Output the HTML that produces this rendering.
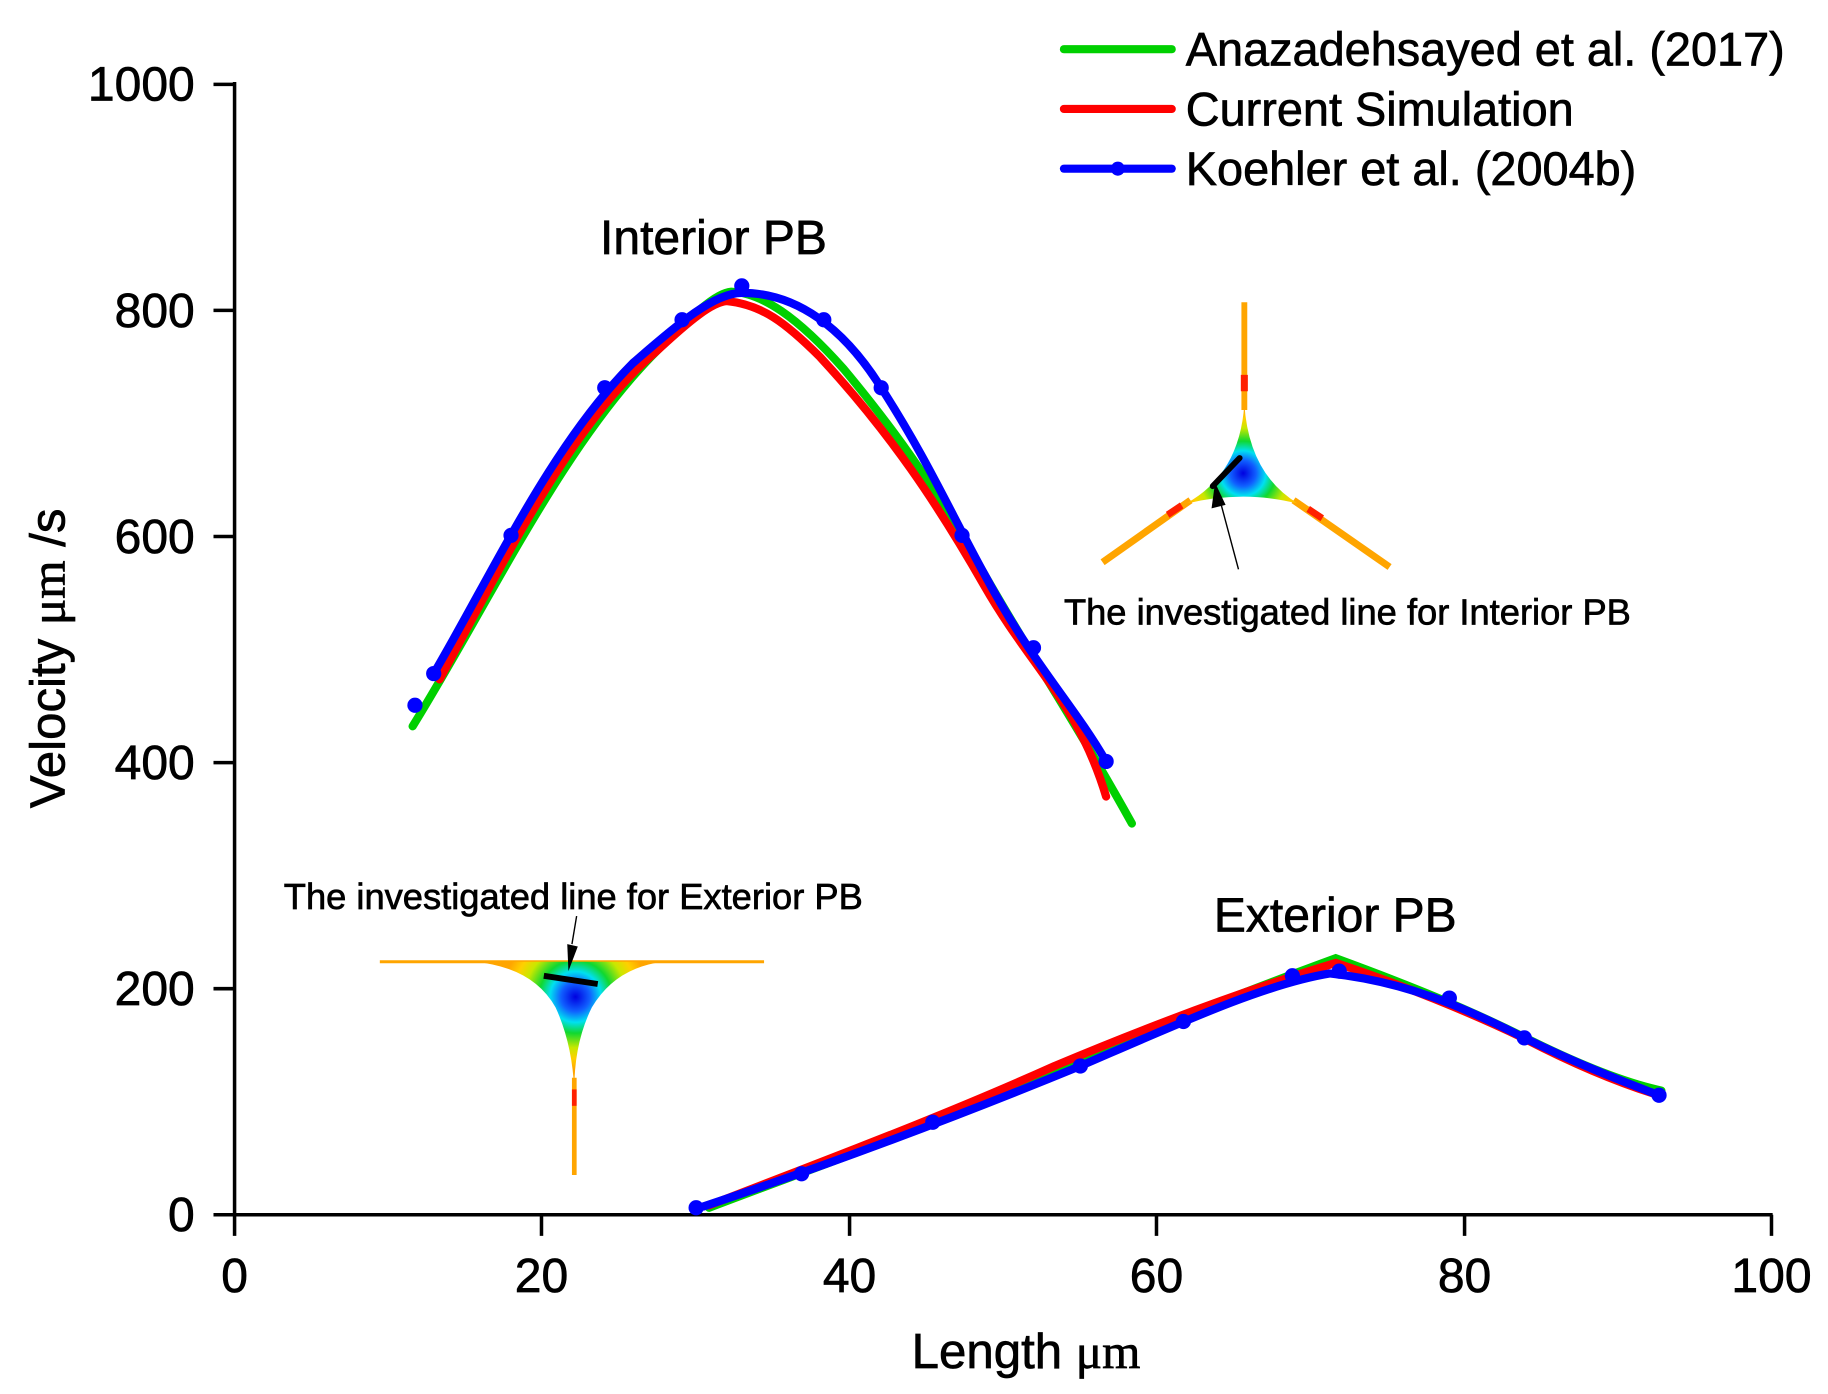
<!DOCTYPE html>
<html><head><meta charset="utf-8"><style>
html,body{margin:0;padding:0;background:#fff}
svg{display:block}
text{font-family:"Liberation Sans",Arial,sans-serif;fill:#000;stroke:#000;stroke-width:0.6}
</style></head><body>
<svg width="1828" height="1394" viewBox="0 0 1560 1190" xmlns="http://www.w3.org/2000/svg">
<defs>
<radialGradient id="g1" cx="1061" cy="404" r="55" gradientUnits="userSpaceOnUse">
<stop offset="0" stop-color="#0000e0"/><stop offset="0.2" stop-color="#1060ff"/><stop offset="0.35" stop-color="#00e0f0"/><stop offset="0.5" stop-color="#10d830"/><stop offset="0.7" stop-color="#c8e800"/><stop offset="0.85" stop-color="#ffd000"/><stop offset="1" stop-color="#ffa500"/></radialGradient>
<radialGradient id="g2" cx="491" cy="851" r="62" gradientUnits="userSpaceOnUse">
<stop offset="0" stop-color="#0000e0"/><stop offset="0.2" stop-color="#1060ff"/><stop offset="0.35" stop-color="#00e0f0"/><stop offset="0.5" stop-color="#10d830"/><stop offset="0.7" stop-color="#c8e800"/><stop offset="0.85" stop-color="#ffd000"/><stop offset="1" stop-color="#ffa500"/></radialGradient>
</defs>
<g stroke="#000" stroke-width="3" fill="none">
<line x1="200" y1="70" x2="200" y2="1037"/>
<line x1="200" y1="1037" x2="1513" y2="1037"/>
<path d="M182 72H200M182 265H200M182 458H200M182 651H200M182 844H200M182 1037H200"/>
<path d="M200 1037V1055M462 1037V1055M725 1037V1055M987 1037V1055M1250 1037V1055M1512 1037V1055"/>
</g>
<g font-size="41" text-anchor="end">
<text x="166" y="86">1000</text><text x="166" y="279">800</text><text x="166" y="472">600</text>
<text x="166" y="665">400</text><text x="166" y="858">200</text><text x="166" y="1051">0</text>
</g>
<g font-size="41" text-anchor="middle">
<text x="200" y="1103">0</text><text x="462" y="1103">20</text><text x="725" y="1103">40</text>
<text x="987" y="1103">60</text><text x="1250" y="1103">80</text><text x="1512" y="1103">100</text>
</g>
<text x="778" y="1168" font-size="42">Length <tspan font-family="Liberation Serif,serif">μm</tspan></text>
<text transform="translate(55,690) rotate(-90)" font-size="42">Velocity <tspan font-family="Liberation Serif,serif">μm</tspan> /s</text>
<text x="512" y="217" font-size="41">Interior PB</text>
<text x="1036" y="795" font-size="41">Exterior PB</text>
<text x="908" y="533" font-size="31">The investigated line for Interior PB</text>
<text x="242" y="776" font-size="31">The investigated line for Exterior PB</text>
<g stroke-width="7" stroke-linecap="round">
<line x1="908" y1="42" x2="1000" y2="42" stroke="#00d000"/>
<line x1="908" y1="93" x2="1000" y2="93" stroke="#ff0000"/>
<line x1="908" y1="144" x2="1000" y2="144" stroke="#0000ff"/>
</g>
<circle cx="954" cy="144" r="6" fill="#0000ff"/>
<g font-size="40"><text x="1012" y="56">Anazadehsayed et al. (2017)</text><text x="1012" y="107">Current Simulation</text><text x="1012" y="158">Koehler et al. (2004b)</text></g>
<g fill="none" stroke="#ffa500" stroke-width="6">
<line x1="1062" y1="258" x2="1062" y2="350" stroke-width="5"/>
<line x1="1016" y1="427" x2="941" y2="480"/>
<line x1="1104" y1="427" x2="1186" y2="484"/>
</g>
<rect x="1059" y="320" width="6" height="14" fill="#ff2000"/>
<path d="M1062 345 Q1066 405 1108 430 Q1062 418 1012 430 Q1058 405 1062 345Z" fill="url(#g1)"/>
<path d="M995 437 l12 -8 l3 5 l-12 8z M1118 432 l12 8 l-3 5 l-12 -8z" fill="#ff2000"/>
<line x1="1035" y1="415" x2="1058" y2="391" stroke="#000" stroke-width="5" stroke-linecap="round"/>
<line x1="1057" y1="486" x2="1042" y2="430" stroke="#000" stroke-width="1.2"/>
<path d="M1037 412 L1034 434 L1046 431Z" fill="#000"/>
<line x1="324" y1="821" x2="652" y2="821" stroke="#ffa500" stroke-width="2.5"/>
<path d="M405 821 L566 821 Q525 826 505 860 Q490 890 490 930 Q488 890 474 860 Q455 826 405 821Z" fill="url(#g2)"/>
<line x1="490" y1="920" x2="490" y2="1003" stroke="#ffa500" stroke-width="4"/>
<rect x="488" y="930" width="4" height="14" fill="#ff2000"/>
<line x1="464" y1="833" x2="510" y2="840" stroke="#000" stroke-width="5"/>
<line x1="492" y1="782" x2="488" y2="806" stroke="#000" stroke-width="1.2"/>
<path d="M484 806 L493 808 L485 829Z" fill="#000"/>
<g fill="none" stroke-width="7" stroke-linecap="round">
<path stroke="#00d000" d="M352 620 C420 510 480 380 560 300 C590 270 610 250 624 249 C650 250 680 270 720 315 C770 375 800 420 840 490 C880 560 920 620 966 703"/>
<path stroke="#ff0000" d="M375 580 C440 460 490 360 560 300 C590 272 608 258 620 257 C650 260 670 275 700 305 C760 370 800 430 840 500 C880 570 920 600 944 680"/>
<path stroke="#0000ff" d="M370 575 C420 490 470 380 540 310 C580 275 610 250 633 250 C680 250 720 280 752 331 C790 390 810 435 840 490 C880 565 915 600 944 650"/>
<path stroke="#00d000" d="M605 1031 C700 995 800 960 900 915 C1000 870 1080 840 1140 818 C1200 840 1250 860 1300 885 C1350 910 1390 925 1418 931"/>
<path stroke="#ff0000" d="M605 1029 C700 992 800 955 900 910 C1000 868 1080 840 1140 822 C1200 842 1250 862 1300 886 C1350 912 1390 927 1416 935"/>
<path stroke="#0000ff" d="M600 1030 C690 1000 800 960 922 910 C1010 872 1080 840 1135 831 C1200 838 1250 860 1301 886 C1350 910 1390 925 1416 935"/>
</g>
<g fill="#0000ff">
<circle cx="354" cy="602" r="6.5"/><circle cx="370" cy="575" r="6.5"/><circle cx="436" cy="457" r="6.5"/><circle cx="516" cy="331" r="6.5"/><circle cx="582" cy="273" r="6.5"/><circle cx="633" cy="244" r="6.5"/><circle cx="703" cy="273" r="6.5"/><circle cx="752" cy="331" r="6.5"/><circle cx="821" cy="457" r="6.5"/><circle cx="882" cy="553" r="6.5"/><circle cx="944" cy="650" r="6.5"/>
<circle cx="594" cy="1031" r="6.5"/><circle cx="684" cy="1002" r="6.5"/><circle cx="796" cy="958" r="6.5"/><circle cx="922" cy="910" r="6.5"/><circle cx="1010" cy="872" r="6.5"/><circle cx="1103" cy="833" r="6.5"/><circle cx="1143" cy="829" r="6.5"/><circle cx="1237" cy="852" r="6.5"/><circle cx="1301" cy="886" r="6.5"/><circle cx="1416" cy="935" r="6.5"/>
</g>
</svg>
</body></html>
